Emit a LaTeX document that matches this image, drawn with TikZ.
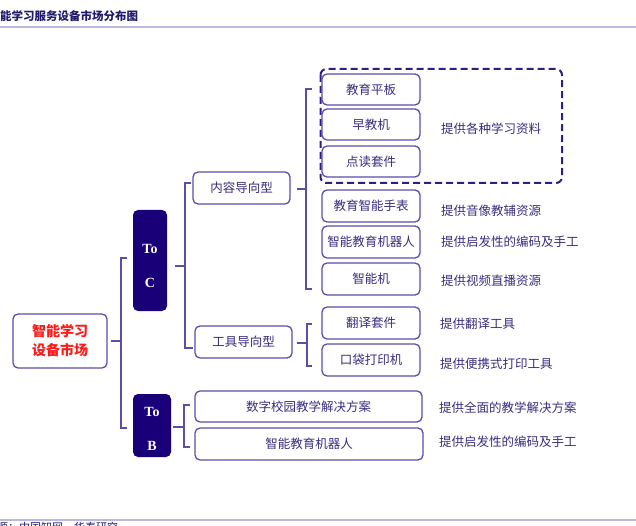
\documentclass[tikz,border=0pt]{standalone}
\usepackage{fontspec}
\usetikzlibrary{calc}
\newfontfamily\cjk{Noto Sans CJK SC}
\newfontfamily\serifb{Liberation Serif}
\definecolor{bord}{HTML}{5B4EA8}
\definecolor{txt}{HTML}{3A2D7E}
\definecolor{navy}{HTML}{1A0078}
\definecolor{rulec}{HTML}{BDB8DD}
\definecolor{dashc}{HTML}{2E1F86}
\definecolor{titlec}{HTML}{1F1A6E}
\definecolor{rootred}{HTML}{FF1A1A}
\begin{document}
\begin{tikzpicture}[x=1pt,y=-1pt,
  box/.style={draw=bord, line width=1.3pt, rounded corners=5pt, fill=white, text=txt,
    font=\cjk\fontsize{12.5}{14}\selectfont, inner sep=0pt, align=center},
  dark/.style={fill=navy, rounded corners=5pt, text=white, inner sep=0pt,
    font=\serifb\bfseries\fontsize{14}{16}\selectfont, align=center},
  lnk/.style={draw=bord, line width=1.3pt},
  desc/.style={anchor=west, text=txt, font=\cjk\fontsize{12.5}{14}\selectfont, inner sep=0pt}]
\useasboundingbox (0,0) rectangle (636,526);

% title and rules
\node[anchor=base west, inner sep=0pt, text=titlec, font=\cjk\bfseries\fontsize{11.5}{13}\selectfont] (title) at (-11.5,21) {智能学习服务设备市场分布图};
\draw[rulec, line width=2pt] (0,27.5) -- (636,27.5);
\draw[rulec, line width=2pt] (0,520) -- (636,520);
\node[anchor=north west, inner sep=0pt, text=titlec, font=\cjk\fontsize{11}{13}\selectfont] (src) at (-36,521.5) {资料来源：中国知网，华泰研究};

% dashed group
\draw[dashc, line width=2pt, dash pattern=on 7pt off 4pt, rounded corners=6pt] (320.5,69) rectangle (562,183);

% root
\node[box, minimum width=94pt, minimum height=54pt, text=rootred, font=\cjk\bfseries\fontsize{14}{19}\selectfont] (root) at (60,341) {智能学习\\设备市场};
\node[dark, minimum width=34pt, minimum height=101pt] (toc) at (150,260.5) {\raisebox{-7pt}[\height][\depth]{\begin{tabular}{@{}c@{}}To\\[18pt]C\end{tabular}}};
\node[dark, minimum width=38pt, minimum height=63pt] (tob) at (152,425.5) {\raisebox{-5pt}[\height][\depth]{\begin{tabular}{@{}c@{}}To\\[18pt]B\end{tabular}}};

\node[box, minimum width=97pt, minimum height=32pt] (nr) at (241.5,188) {内容导向型};
\node[box, minimum width=97pt, minimum height=32pt] (gj) at (243.5,342) {工具导向型};

\node[box, minimum width=98pt, minimum height=31pt] (i1) at (371,89.5) {教育平板};
\node[box, minimum width=98pt, minimum height=31pt] (i2) at (371,124.5) {早教机};
\node[box, minimum width=98pt, minimum height=31pt] (i3) at (371,161.5) {点读套件};
\node[box, minimum width=98pt, minimum height=32pt] (i4) at (371,206) {教育智能手表};
\node[box, minimum width=98pt, minimum height=32pt] (i5) at (371,242) {智能教育机器人};
\node[box, minimum width=98pt, minimum height=32pt] (i6) at (371,279) {智能机};
\node[box, minimum width=98pt, minimum height=32pt] (t1) at (371,323) {翻译套件};
\node[box, minimum width=98pt, minimum height=32pt] (t2) at (371,360) {口袋打印机};
\node[box, minimum width=227pt, minimum height=31pt] (b1) at (308.5,406.5) {数字校园教学解决方案};
\node[box, minimum width=228pt, minimum height=32pt] (b2) at (309,444) {智能教育机器人};

% descriptions
\node[desc] (d1) at (441,129) {提供各种学习资料};
\node[desc] (d4) at (441,211) {提供音像教辅资源};
\node[desc] (d5) at (441,242) {提供启发性的编码及手工};
\node[desc] (d6) at (441,281) {提供视频直播资源};
\node[desc] (d7) at (440,324) {提供翻译工具};
\node[desc] (d8) at (440,364) {提供便携式打印工具};
\node[desc] (d9) at (439,408) {提供全面的教学解决方案};
\node[desc] (d10) at (439,442) {提供启发性的编码及手工};

% root bracket
\coordinate (rA) at (121,341);
\coordinate (rT) at (127,258);
\coordinate (rB) at (127,428);
\draw[lnk] ($(root.east)+(3,0)$) -- (rA);
\draw[lnk] (rT) -| (rA) |- (rB);

% ToC bracket
\coordinate (cA) at (185,266);
\coordinate (cT) at (191,183);
\coordinate (cB) at (193,348);
\draw[lnk] ($(toc.east |- cA)+(8,0)$) -- (cA);
\draw[lnk] (cT) -| (cA) |- (cB);

% content bracket
\coordinate (nA) at (306,189);
\coordinate (nT) at (312,89);
\coordinate (nB) at (312,289);
\draw[lnk] ($(nr.east |- nA)+(6,0)$) -- (nA);
\draw[lnk] (nT) -| (nA) |- (nB);

% tool bracket
\coordinate (gA) at (307,343);
\coordinate (gT) at (312,324);
\coordinate (gB) at (312,366);
\draw[lnk] ($(gj.east |- gA)+(4,0)$) -- (gA);
\draw[lnk] (gT) -| (gA) |- (gB);

% ToB bracket
\coordinate (bA) at (184,427);
\coordinate (bT) at (190,405);
\coordinate (bB) at (190,447);
\draw[lnk] ($(tob.east |- bA)+(2,0)$) -- (bA);
\draw[lnk] (bT) -| (bA) |- (bB);
\end{tikzpicture}
\end{document}
